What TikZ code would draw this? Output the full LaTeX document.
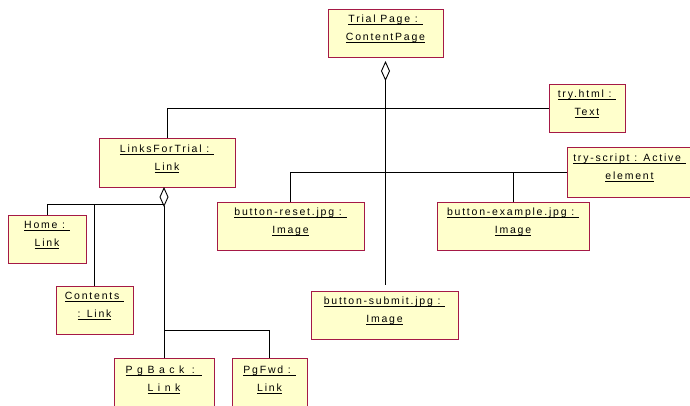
\documentclass[tikz,border=0pt]{standalone}
\usepackage{fontspec}
\setmainfont{Liberation Sans}
\newfontfamily\objfont[LetterSpace=17]{Liberation Sans}
\newfontfamily\objwidefont[LetterSpace=43]{Liberation Sans}
\usetikzlibrary{arrows.meta}
\definecolor{objfill}{RGB}{255,255,204}
\definecolor{objedge}{RGB}{165,25,70}
\newcommand{\objname}[1]{\setbox0\hbox{#1}\rlap{\rule[-2pt]{\wd0}{0.7pt}}\box0}

\begin{document}
\begin{tikzpicture}[
  x=1pt,y=-1pt,
  obj/.style={draw=objedge, fill=objfill, line width=0.9pt, align=center, inner sep=2pt, outer sep=0pt, font=\objfont\fontsize{10.5}{18}\selectfont, text depth=10pt},
  wideobj/.style={obj, font=\objwidefont\fontsize{10.5}{18}\selectfont},
  link/.style={line width=0.9pt},
  agg/.style={{Diamond[open,length=20pt,width=9pt,line width=0.9pt]}-, line width=0.9pt}
]
\useasboundingbox (0,0) rectangle (690,405);
\clip (0,0) rectangle (690,405);

\node[obj, minimum width=115pt, minimum height=48pt] (trial) at (385.5,33) {\objname{Trial Page :~}\\\objname{ContentPage}};
\node[obj, minimum width=76pt, minimum height=48pt] (tryhtml) at (587,108) {\objname{try.html :~}\\\objname{Text}};
\node[obj, minimum width=136pt, minimum height=49pt] (links) at (167,162.5) {\objname{LinksForTrial :~}\\\objname{Link}};
\node[obj, minimum width=125pt, minimum height=50pt] (tryscript) at (629.5,172) {\objname{try-script : Active~}\\\objname{element}};
\node[obj, minimum width=147pt, minimum height=48pt] (reset) at (290.5,226) {\objname{button-reset.jpg :~}\\\objname{Image}};
\node[obj, minimum width=152pt, minimum height=48pt] (example) at (513,226) {\objname{button-example.jpg :~}\\\objname{Image}};
\node[obj, minimum width=147pt, minimum height=48pt] (submit) at (384.5,315) {\objname{button-submit.jpg :~}\\\objname{Image}};
\node[obj, minimum width=78pt, minimum height=48pt] (home) at (47,239) {\objname{Home :~}\\\objname{Link}};
\node[obj, minimum width=77pt, minimum height=48pt] (contents) at (94.5,310) {\objname{Contents~}\\\objname{: Link}};
\node[wideobj, minimum width=100pt, minimum height=52pt] (pgback) at (164,384) {\objname{PgBack :~}\\\objname{Link}};
\node[obj, minimum width=75pt, minimum height=52pt] (pgfwd) at (269.5,384) {\objname{PgFwd :~}\\\objname{Link}};

\coordinate (linkstop) at (164,187);
\coordinate (linkbar) at (164,204);
\coordinate (pgbar) at (164,330);

\draw[agg, shorten <=4pt, shorten >=6pt] (trial.south) -- (trial.south |- submit.north);
\draw[link] (links.north) |- (tryhtml.west);
\draw[link] (reset.north) |- (tryscript.west);
\draw[link] (example.north) -- (example.north |- tryscript.west);
\draw[agg] (linkstop) -- (pgbar) -| (pgfwd.north);
\draw[link] (pgback.north) -- (pgbar);
\draw[link] (home.north) |- (linkbar);
\draw[link] (contents.north) -- (contents.north |- linkbar);
\end{tikzpicture}
\end{document}
